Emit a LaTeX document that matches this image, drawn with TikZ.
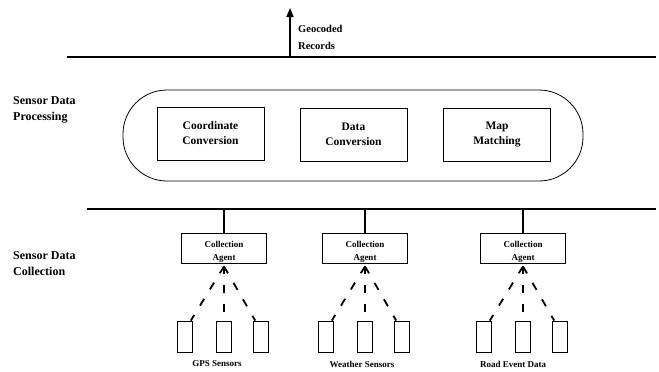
\documentclass[tikz,border=0pt]{standalone}
\usepackage{fontspec}
\setmainfont{Liberation Serif}
\usetikzlibrary{arrows.meta}
\begin{document}
\begin{tikzpicture}[x=1pt,y=-1pt,
  lbl/.style={font=\bfseries\fontsize{12}{16}\selectfont, align=left, anchor=north west, inner sep=0},
  procbox/.style={draw, line width=0.8pt, minimum width=107pt, minimum height=53pt, inner sep=0, align=center, font=\bfseries\fontsize{11.5}{15}\selectfont},
  agentbox/.style={draw, line width=0.8pt, minimum width=85pt, minimum height=30pt, inner sep=0},
  agenttext/.style={font=\bfseries\fontsize{9}{13}\selectfont, align=center, inner sep=0},
  sensorbox/.style={draw, line width=0.8pt, minimum width=15pt, minimum height=31pt, inner sep=0},
  caption/.style={font=\bfseries\fontsize{9}{11}\selectfont, inner sep=0},
  bus/.style={line width=2pt},
  link/.style={line width=2pt},
  dashlink/.style={line width=1.8pt, dash pattern=on 8pt off 11pt}
]
\useasboundingbox (0,0) rectangle (659,372);

% top bus and output arrow
\coordinate (tb1) at (67,57);
\coordinate (tb2) at (656,57);
\draw[bus] (tb1) -- (tb2);
\coordinate (arrS) at (290,57);
\coordinate (arrE) at (290,8);
\draw[line width=1.6pt, -{Triangle[length=9pt,width=7pt]}] (arrS) -- (arrE);
\node[font=\bfseries\fontsize{10.5}{17.5}\selectfont, align=left, anchor=north west, inner sep=0] (geo) at (298,25) {Geocoded\\Records};

% processing
\node[lbl] (lproc) at (13,96) {Sensor Data\\Processing};
\node[draw, line width=0.8pt, rounded corners=44pt, minimum width=460pt, minimum height=91pt, inner sep=0] (stadium) at (353,135.5) {};
\node[procbox] (cc) at (210.5,133.5) {Coordinate\\Conversion};
\node[procbox] (dc) at (353.5,134.5) {Data\\Conversion};
\node[procbox] (mm) at (497,134.5) {Map\\Matching};

% bottom bus
\coordinate (bb1) at (87,209);
\coordinate (bb2) at (656,209);
\draw[bus] (bb1) -- (bb2);

\node[lbl] (lcoll) at (13,251) {Sensor Data\\Collection};

% collection agents
\foreach \n/\x/\cap/\capx in {a/224/GPS Sensors/217, b/365/Weather Sensors/362, c/523/Road Event Data/513}{
  \coordinate (bus\n) at (\x,209);
  \node[agentbox] (ag\n) at (\x,248) {};
  \node[agenttext] (agt\n) at (\x,251.5) {Collection\\Agent};
  \draw[link] (bus\n) -- (ag\n.north);
  \node[sensorbox] (s\n1) at (\x-39,336.5) {};
  \node[sensorbox] (s\n2) at (\x,336.5) {};
  \node[sensorbox] (s\n3) at (\x+37,336.5) {};
  \draw[dashlink] (ag\n.south) ++(0,3) -- (s\n1.70);
  \draw[dashlink] (ag\n.south) ++(0,3) -- (s\n2.north);
  \draw[dashlink] (ag\n.south) ++(0,3) -- (s\n3.110);
  \node[caption] (cap\n) at (\capx,364) {\cap};
}
\end{tikzpicture}
\end{document}
